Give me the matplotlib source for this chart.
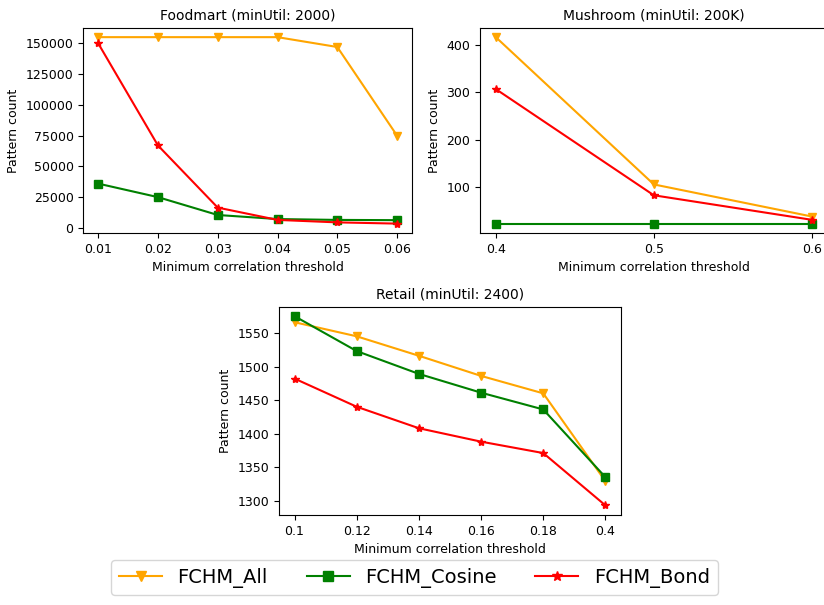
import matplotlib
matplotlib.use("Agg")
import matplotlib.pyplot as plt

# Foodmart
food_x = [0.01, 0.02, 0.03, 0.04, 0.05, 0.06]
food_all = [155000, 155000, 155000, 155000, 147000, 75000]
food_cosine = [36000, 25000, 10500, 7200, 6500, 6300]
food_bond = [150000, 67000, 16500, 6500, 4500, 3500]

# Mushroom
mush_x = [0.4, 0.5, 0.6]
mush_all = [417, 105, 37]
mush_cosine = [22, 22, 22]
mush_bond = [307, 82, 30]

# Retail (categorical thresholds)
retail_labels = ["0.1", "0.12", "0.14", "0.16", "0.18", "0.4"]
retail_all = [1566, 1545, 1516, 1486, 1460, 1329]
retail_cosine = [1575, 1523, 1489, 1461, 1436, 1335]
retail_bond = [1482, 1440, 1408, 1388, 1371, 1293]

names = ["FCHM_All", "FCHM_Cosine", "FCHM_Bond"]
colors = ["orange", "green", "red"]
markers = ["v", "s", "*"]

fig = plt.figure(figsize=(8.24, 6.05), dpi=100)
ax1 = fig.add_axes([0.101, 0.615, 0.399, 0.339])
ax2 = fig.add_axes([0.5825, 0.615, 0.422, 0.339])
ax3 = fig.add_axes([0.3386, 0.149, 0.415, 0.344])


def draw(ax, x, series, title):
    lines = []
    for s, c, m, n in zip(series, colors, markers, names):
        l, = ax.plot(x, s, color=c, marker=m, label=n)
        lines.append(l)
    ax.set_title(title, fontsize=10)
    ax.set_xlabel("Minimum correlation threshold", fontsize=9)
    ax.set_ylabel("Pattern count", fontsize=9)
    ax.tick_params(labelsize=9)
    return lines


draw(ax1, food_x, [food_all, food_cosine, food_bond], "Foodmart (minUtil: 2000)")
ax1.set_xticks(food_x)
draw(ax2, mush_x, [mush_all, mush_cosine, mush_bond], "Mushroom (minUtil: 200K)")
ax2.set_xticks(mush_x)
ax2.set_yticks([100, 200, 300, 400])
idx = list(range(len(retail_labels)))
lines = draw(ax3, idx, [retail_all, retail_cosine, retail_bond], "Retail (minUtil: 2400)")
ax3.set_xticks(idx)
ax3.set_xticklabels(retail_labels)

fig.legend(handles=lines, loc="lower center", bbox_to_anchor=(0.503, 0.0), ncol=3,
           fontsize=14, markerscale=1.3, handlelength=2.2, columnspacing=2.0)

plt.savefig("out.png")
